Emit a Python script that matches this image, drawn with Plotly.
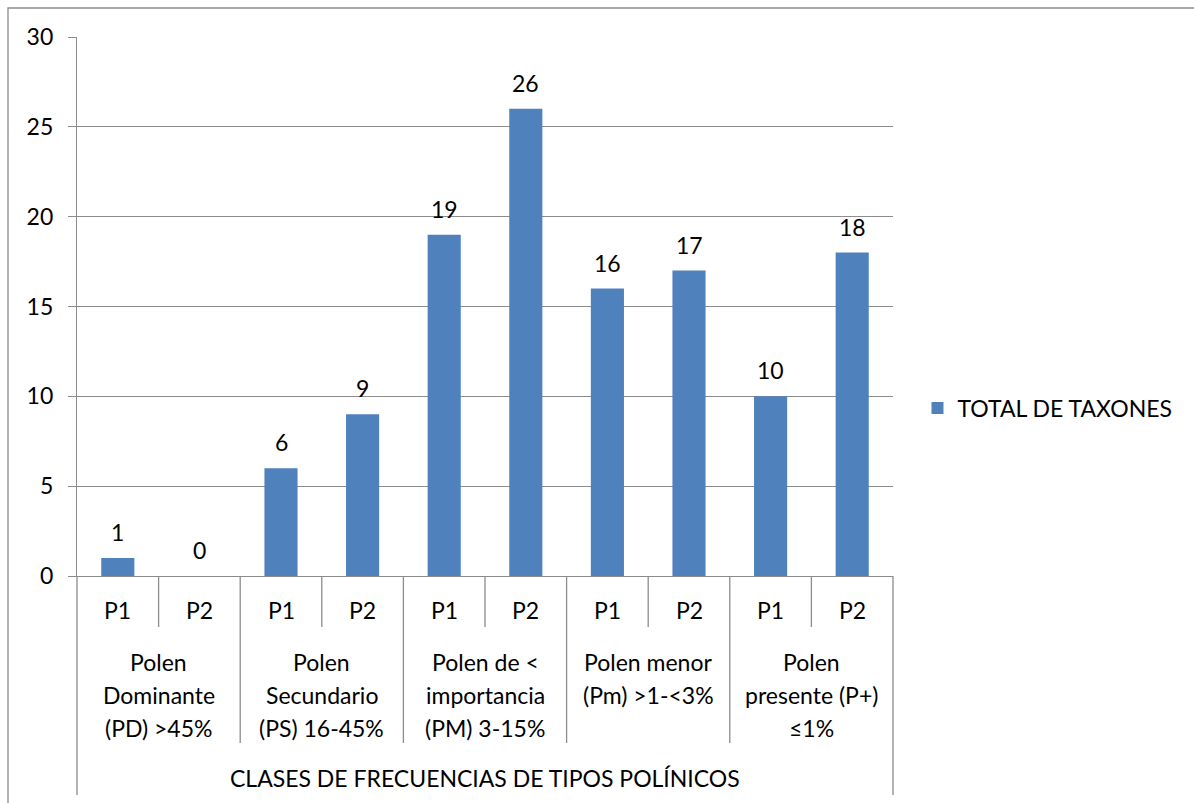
import plotly.graph_objects as go

# Data
periods = ["P1", "P2"]
group_lines = [
    ["Polen", "Dominante", "(PD) >45%"],
    ["Polen", "Secundario", "(PS) 16-45%"],
    ["Polen de <", "importancia", "(PM) 3-15%"],
    ["Polen menor", "(Pm) >1-<3%"],
    ["Polen", "presente (P+)", "≤1%"],
]
total_taxones = [1, 0, 6, 9, 19, 26, 16, 17, 10, 18]
series_name = "TOTAL DE TAXONES"
axis_title = "CLASES DE FRECUENCIAS DE TIPOS POLÍNICOS"
y_ticks = [0, 5, 10, 15, 20, 25, 30]

# Layout geometry (pixels)
W, H = 1194, 803
ML, MR, MT, MB = 77, 1194 - 893, 37, 803 - 576
PW, PH = W - ML - MR, H - MT - MB

FONT = "Lato"
FS = 23
GRID = "#8c8c8c"
BAR = "#4F81BD"

n_cat = len(total_taxones)
n_per = len(periods)
xs = list(range(n_cat))

fig = go.Figure()
fig.add_trace(go.Bar(
    x=xs, y=total_taxones, name=series_name, marker_color=BAR,
    marker_line_width=0, showlegend=True,
))

annotations = []
shapes = []
txt = dict(family=FONT, size=FS, color="black")

# value labels above the bars
for x, v in zip(xs, total_taxones):
    annotations.append(dict(x=x, y=v, xref="x", yref="y", text=str(v),
                            showarrow=False, yanchor="middle", yshift=26, font=txt))

# period labels under each bar
for i in xs:
    annotations.append(dict(x=i, y=0, xref="x", yref="paper", text=periods[i % n_per],
                            showarrow=False, yanchor="middle", yshift=-34, font=txt))

# group labels (multi-line, top aligned)
for g, lines in enumerate(group_lines):
    cx = g * n_per + (n_per - 1) / 2
    for k, line in enumerate(lines):
        annotations.append(dict(x=cx, y=0, xref="x", yref="paper", text=line,
                                showarrow=False, yanchor="middle",
                                yshift=-(86 + 33 * k), font=txt))

# outer category title
annotations.append(dict(x=(n_cat - 1) / 2, y=0, xref="x", yref="paper", text=axis_title,
                        showarrow=False, yanchor="middle", yshift=-202, font=txt))

# divider lines below the axis
def px_to_paper_y(depth):
    return -depth / PH

for b in range(n_cat + 1):
    fx = b / n_cat
    if b == 0 or b == n_cat:
        depth = 795 - 576
    elif b % n_per == 0:
        depth = 743 - 576
    else:
        depth = 627 - 576
    shapes.append(dict(type="line", xref="x domain", yref="paper",
                       x0=fx, x1=fx, y0=0, y1=px_to_paper_y(depth),
                       line=dict(color=GRID, width=1.3)))

# chart border
shapes.append(dict(type="rect", xref="paper", yref="paper",
                   x0=(8 - ML) / PW, x1=(W + 10 - ML) / PW,
                   y0=-(MB + 10) / PH, y1=1 + (MT - 8) / PH,
                   line=dict(color=GRID, width=1.3), fillcolor="rgba(0,0,0,0)",
                   layer="below"))

fig.update_layout(
    width=W, height=H,
    margin=dict(l=ML, r=MR, t=MT, b=MB, pad=0),
    paper_bgcolor="white", plot_bgcolor="white",
    font=txt,
    bargap=0.594,
    xaxis=dict(range=[-0.5, n_cat - 0.5], showticklabels=False, ticks="",
               showgrid=False, zeroline=False, showline=True,
               linecolor=GRID, linewidth=1.3, fixedrange=True),
    yaxis=dict(range=[0, 30], tickvals=y_ticks, ticks="outside", ticklen=8,
               tickcolor=GRID, tickwidth=1.3, ticklabelstandoff=10,
               showgrid=True, gridcolor=GRID, gridwidth=1.3, zeroline=False,
               showline=True, linecolor=GRID, linewidth=1.3, tickfont=txt),
    legend=dict(x=1.03, y=(576 - 408) / PH, xanchor="left", yanchor="middle",
                font=txt, bgcolor="rgba(0,0,0,0)"),
    annotations=annotations,
    shapes=shapes,
)

fig.write_html("out.html")
